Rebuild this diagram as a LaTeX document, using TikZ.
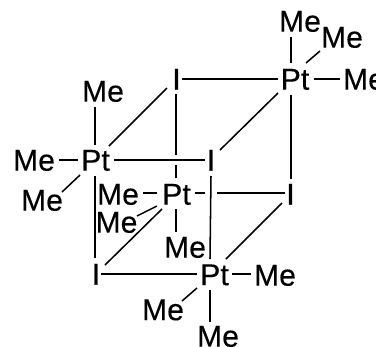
\documentclass[tikz,border=0pt]{standalone}
\usepackage{fontspec}
\setmainfont[FakeBold=0.25]{Liberation Sans}
\newfontfamily\iodfont[FakeBold=0.9]{Liberation Sans}
\newcommand{\bnd}[4]{\draw[bond] ([shift={(#2)}]#1.center) -- ([shift={(#4)}]#3.center);}
\tikzset{lab/.style={inner sep=0pt,font=\fontsize{22.6}{22.6}\selectfont,text height=16pt,text depth=0pt},
iod/.style={lab,font=\fontsize{22.6}{22.6}\selectfont\iodfont},
bond/.style={line width=1.15pt,black}}
\begin{document}
\begin{tikzpicture}[x=0.75pt,y=-0.75pt]
\useasboundingbox (0,0) rectangle (376,347);
\fill[white] (0,0) rectangle (376,347);
% atoms
\node[lab] (p1) at (95.5,160) {Pt};
\node[lab] (p2) at (295,79) {Pt};
\node[lab] (p3) at (176.5,194) {Pt};
\node[lab] (p4) at (214.5,274.5) {Pt};
\node[iod] (i1) at (176.5,79) {I};
\node[iod] (i2) at (211,160) {I};
\node[iod] (i3) at (290.5,194) {I};
\node[iod] (i4) at (96,274) {I};
\node[lab] (m1a) at (103,91) {Me};
\node[lab] (m1b) at (34,160) {Me};
\node[lab] (m1c) at (42,200) {Me};
\node[lab] (m2a) at (300,21) {Me};
\node[lab] (m2b) at (342,37) {Me};
\node[lab] (m2c) at (364,79) {Me};
\node[lab] (m3a) at (118,194) {Me};
\node[lab] (m3b) at (116.5,222) {Me};
\node[lab] (m3c) at (185,247) {Me};
\node[lab] (m4a) at (275,275) {Me};
\node[lab] (m4b) at (163,309.5) {Me};
\node[lab] (m4c) at (218,336) {Me};
% bonds
\bnd{m1a}{-8,16}{p1}{-0.5,-15}
\bnd{m1b}{25,0}{p1}{-17.5,0}
\bnd{m1c}{20,-8}{p1}{-15.5,15}
\bnd{p1}{13.5,-14}{i1}{-9.5,9}
\bnd{p1}{18.5,0}{i2}{-6,0}
\bnd{p1}{-0.5,16}{i4}{-1,-16}
\bnd{i1}{-0.5,15}{p3}{-0.5,-39}
\bnd{p3}{-0.5,-29}{p3}{-0.5,-16}
\bnd{i1}{5.5,0}{p2}{-17,0}
\bnd{m2a}{-9,16}{p2}{-4,-16}
\bnd{m2b}{-22,14}{p2}{11,-16}
\bnd{m2c}{-24,0}{p2}{19,0}
\bnd{p2}{-17,14}{i2}{9,-10}
\bnd{p2}{-4,16}{i3}{0.5,-15}
\bnd{m3a}{25,-1}{p3}{-19.5,-1}
\bnd{m3b}{20.5,-6}{p3}{-19.5,12}
\bnd{p3}{-14.5,15}{i4}{9,-9}
\bnd{p3}{-0.5,15}{m3c}{-9,-15}
\bnd{p3}{18.5,-1}{p3}{28.5,-1}
\bnd{p3}{40.5,-1}{i3}{-5.5,-1}
\bnd{i2}{0,16}{p4}{-4.5,-15.5}
\bnd{i3}{-8.5,9}{p4}{11.5,-15.5}
\bnd{i4}{5,0}{p4}{-17.5,-0.5}
\bnd{p4}{17.5,-0.5}{m4a}{-24,-1}
\bnd{p4}{-17.5,13.5}{m4b}{19,-8.5}
\bnd{p4}{-4.5,15.5}{m4c}{-8,-14}
\end{tikzpicture}
\end{document}
